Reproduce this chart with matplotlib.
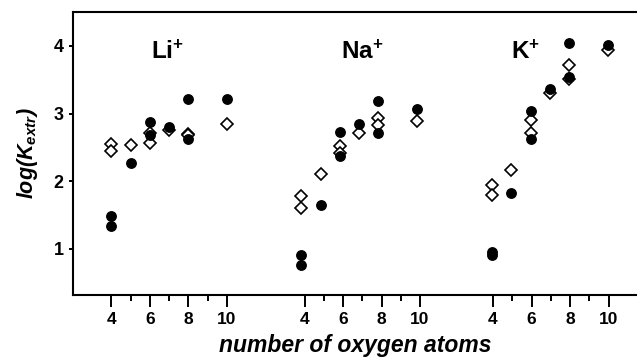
import matplotlib
matplotlib.use("Agg")
import matplotlib.pyplot as plt

plt.rcParams['font.family'] = 'Liberation Sans'
plt.rcParams['font.weight'] = 'bold'
plt.rcParams['mathtext.fontset'] = 'custom'
plt.rcParams['mathtext.rm'] = 'Liberation Sans:bold:italic'
plt.rcParams['mathtext.it'] = 'Liberation Sans:bold:italic'
plt.rcParams['mathtext.bf'] = 'Liberation Sans:bold'

# data
ions = ['Li', 'Na', 'K']
n_oxygen = [4, 4, 5, 6, 6, 7, 8, 8, 10]

li_circles = [1.49, 1.34, 2.27, 2.87, 2.69, 2.80, 3.21, 2.62, 3.22]
li_diamonds = [2.55, 2.45, 2.53, 2.57, 2.72, 2.75, 2.70, 2.68, 2.85]
na_circles = [0.91, 0.77, 1.65, 2.73, 2.38, 2.84, 3.19, 2.72, 3.07]
na_diamonds = [1.78, 1.61, 2.10, 2.52, 2.41, 2.72, 2.93, 2.83, 2.89]
k_circles = [0.96, 0.91, 1.83, 3.04, 2.63, 3.36, 4.04, 3.54, 4.01]
k_diamonds = [1.95, 1.79, 2.16, 2.91, 2.72, 3.30, 3.71, 3.51, 3.94]

circles = [li_circles, na_circles, k_circles]
diamonds = [li_diamonds, na_diamonds, k_diamonds]

tick_vals = [4, 6, 8, 10]
minor_vals = [5, 7, 9]

# horizontal shift of each ion block
point_shift = [0, 9.87, 19.78]
tick_shift = [0, 10.03, 19.82]

fig = plt.figure(figsize=(6.37, 3.6), dpi=100)
ax = fig.add_axes([73 / 637, 65 / 360, 1 - 73 / 637, 283 / 360])

for i in range(3):
    xs = [n + point_shift[i] for n in n_oxygen]
    ax.plot(xs, diamonds[i], 'D', ms=6.2, mfc='white', mec='black', mew=1.2,
            zorder=2, clip_on=False)
    ax.plot(xs, circles[i], 'o', ms=6.8, color='black', zorder=3, clip_on=False)

ax.set_xlim(2, 31.3)
ax.set_ylim(0.32, 4.5)

major = [t + s for s in tick_shift for t in tick_vals]
minor = [t + s for s in tick_shift for t in minor_vals]
ax.set_xticks(major)
ax.set_xticklabels([str(t) for s in tick_shift for t in tick_vals])
ax.set_xticks(minor, minor=True)
ax.set_yticks([1, 2, 3, 4])

ax.tick_params(axis='x', which='major', direction='out', length=8.5, width=1.4,
               labelsize=12.5, pad=4)
ax.tick_params(axis='x', which='minor', direction='out', length=4, width=1.4)
ax.tick_params(axis='y', direction='out', length=2.8, width=1.4, labelsize=13, pad=4)

ax.spines['right'].set_visible(False)
for side in ['left', 'top', 'bottom']:
    ax.spines[side].set_linewidth(1.5)

ax.set_xlabel('number of oxygen atoms', fontsize=16.5, fontweight='bold',
              fontstyle='italic', labelpad=5)
ax.set_ylabel(r'$log(K_{extr})$', fontsize=15.5, labelpad=10)

label_x = [6.9, 17.05, 25.5]
for i, ion in enumerate(ions):
    ax.text(label_x[i], 3.91, r'$\mathbf{%s}^{\mathbf{+}}$' % ion, fontsize=17.5,
            ha='center', va='center')

fig.savefig('out.png', dpi=100)
